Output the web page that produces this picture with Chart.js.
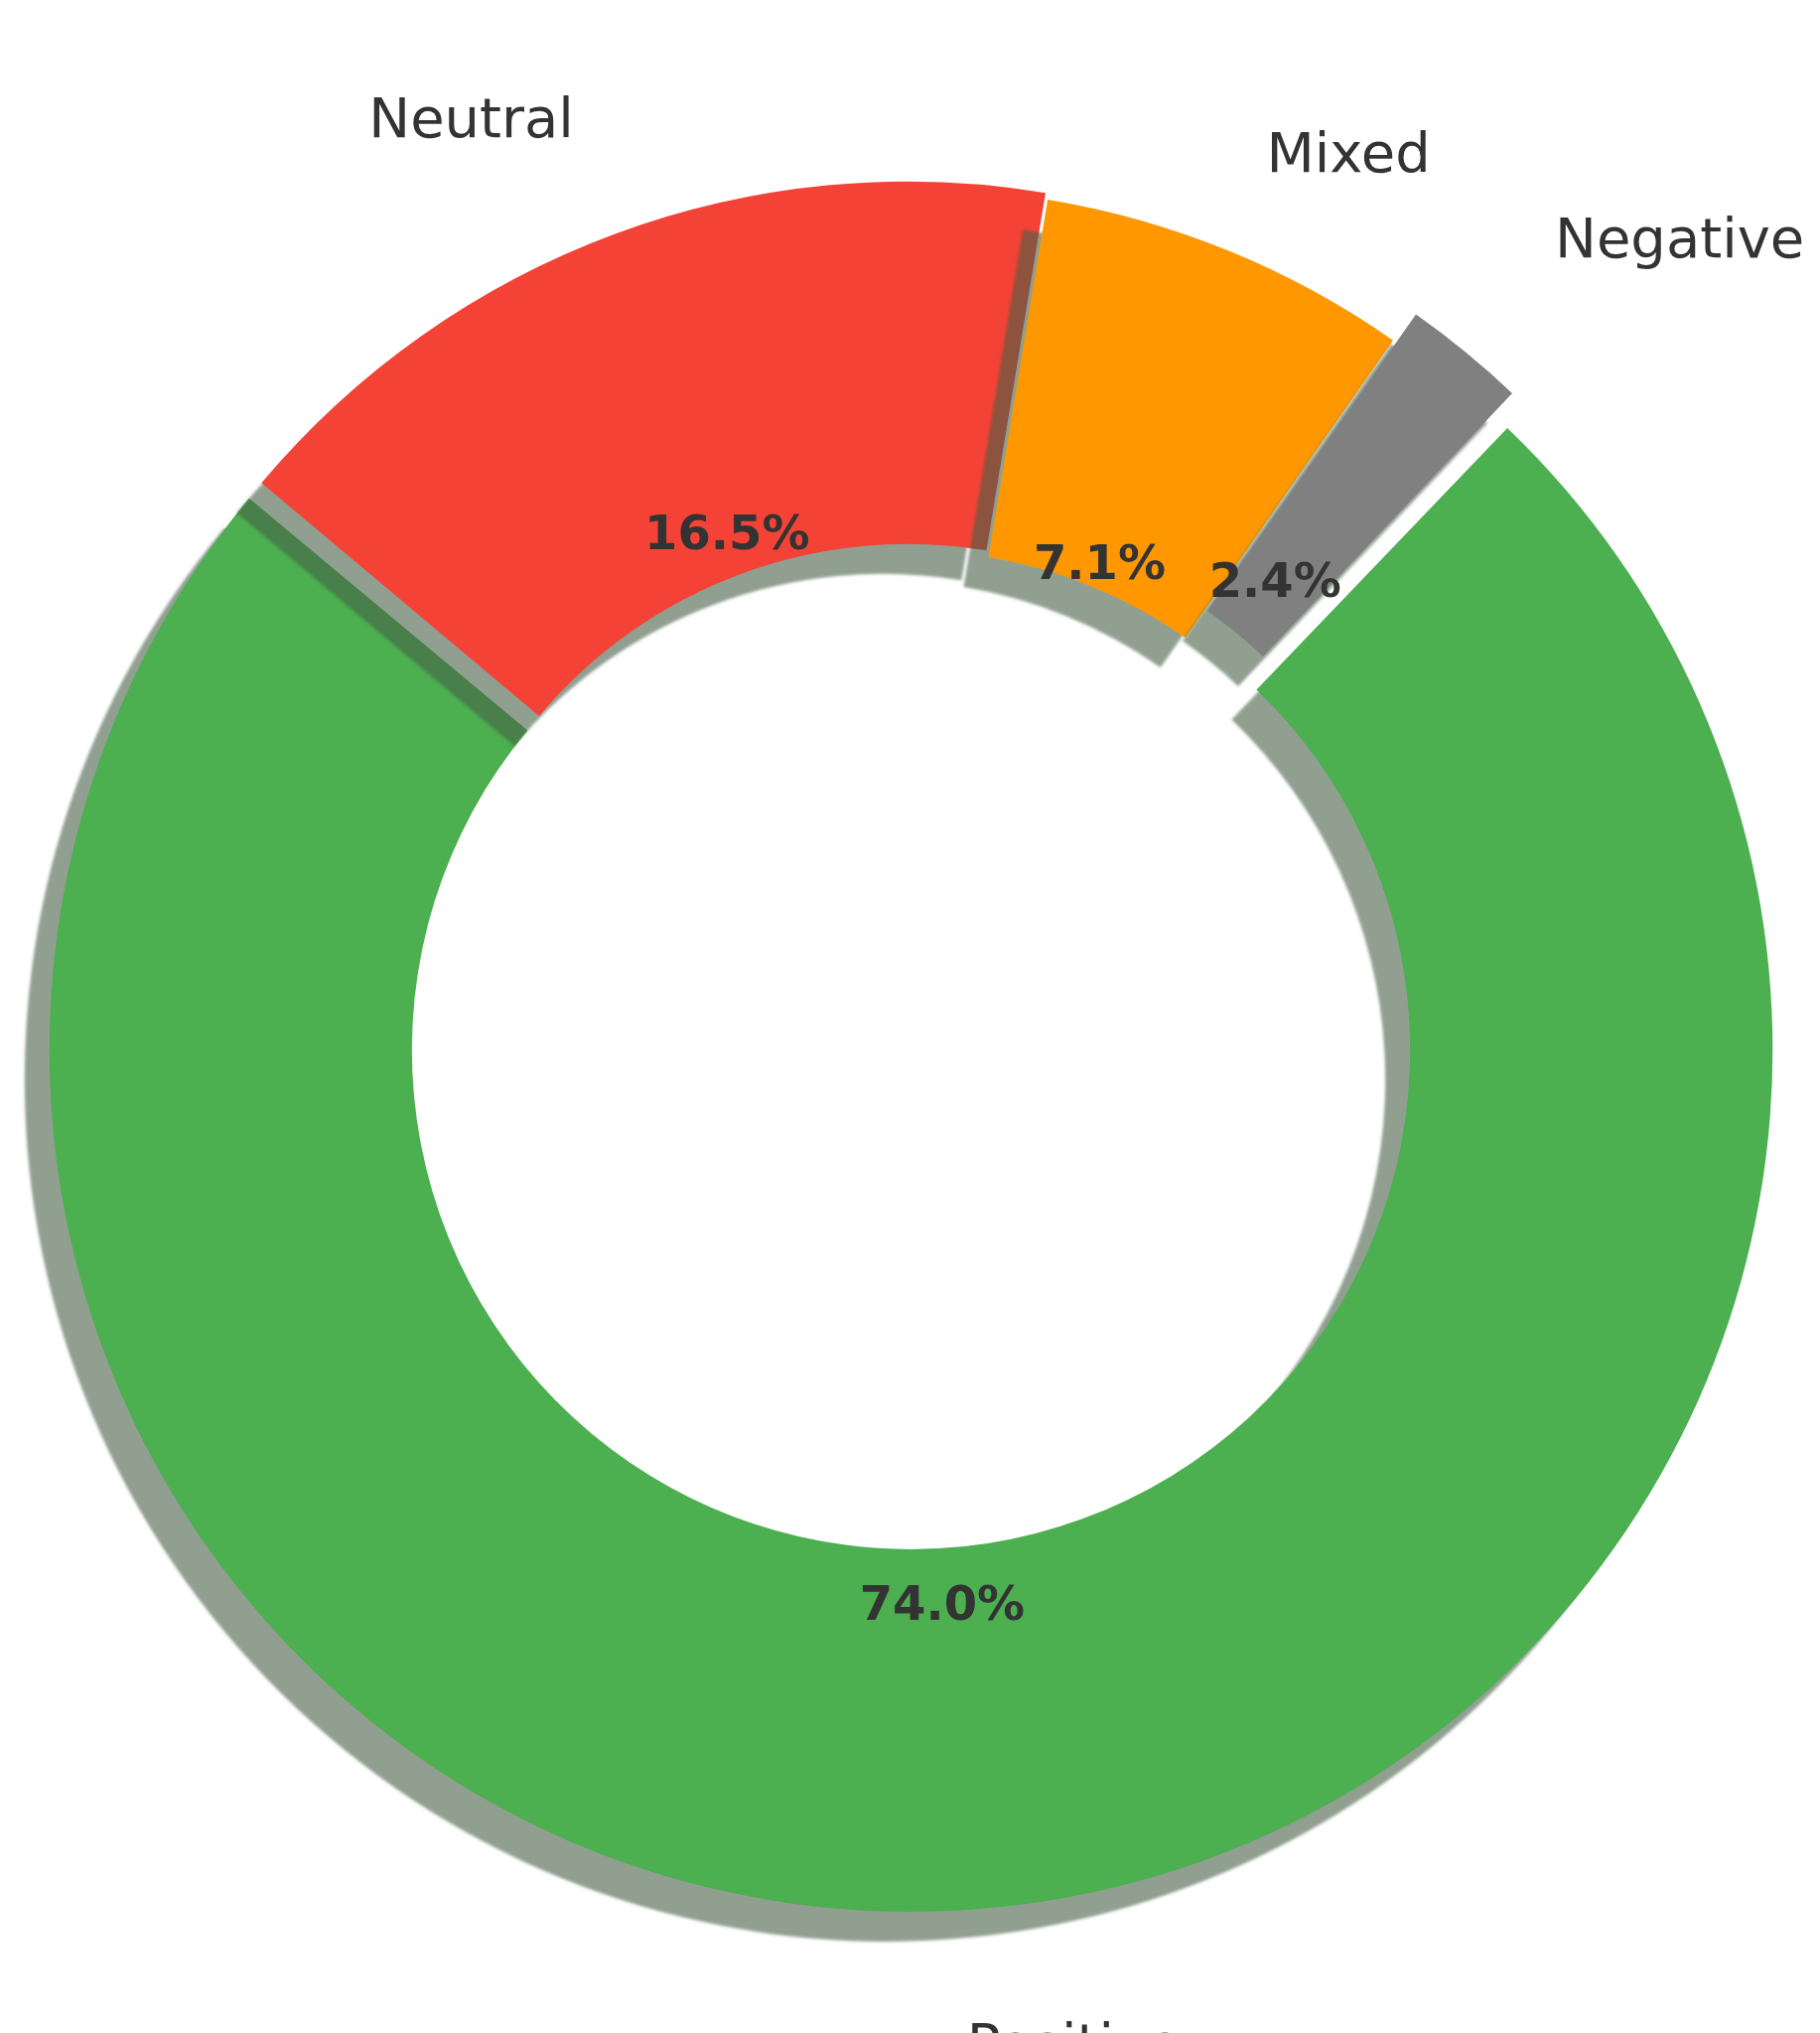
<!DOCTYPE html>
<html><head><meta charset="utf-8">
<script src="https://cdn.jsdelivr.net/npm/chart.js@4"></script>
<style>html,body{margin:0;background:#fff}#w{width:1833px;height:2047px}</style>
</head><body><div id="w"><canvas id="c"></canvas></div>
<script>
const categories = ['Positive','Neutral','Mixed','Negative'];
const values = [74.0, 16.5, 7.1, 2.4];
const colors = ['#4CAF50','#F44336','#FF9800','#808080'];
const offsets = [75, 25, 0, 75];

const shadowPlugin = {
  id:'shadow',
  beforeDatasetDraw(chart){
    const ctx=chart.ctx; ctx.save();
    ctx.shadowColor='rgba(70,95,70,0.6)'; ctx.shadowOffsetX=-25; ctx.shadowOffsetY=30; ctx.shadowBlur=3;
  },
  afterDatasetDraw(chart){ chart.ctx.restore(); }
};
const labelPlugin = {
  id:'lbls',
  afterDraw(chart){
    const ctx=chart.ctx, meta=chart.getDatasetMeta(0);
    const cx0=(chart.chartArea.left+chart.chartArea.right)/2, cy0=(chart.chartArea.top+chart.chartArea.bottom)/2;
    meta.data.forEach((el,i)=>{
      const p=el.getProps(['x','y','startAngle','endAngle','innerRadius','outerRadius'],true);
      const a=(p.startAngle+p.endAngle)/2;
      const off=offsets[i];
      const cx=cx0+Math.cos(a)*off, cy=cy0+Math.sin(a)*off;
      const ri=p.innerRadius, ro=p.outerRadius;
      const rp=ri+0.06*(ro-ri);
      ctx.save();
      ctx.fillStyle='#333'; ctx.textBaseline='middle';
      ctx.font='bold 48px "DejaVu Sans"'; ctx.textAlign='center';
      ctx.fillText(values[i].toFixed(1)+'%', cx+Math.cos(a)*rp, cy+Math.sin(a)*rp);
      ctx.font='56px "DejaVu Sans"';
      const lx=cx+Math.cos(a)*ro*1.12, ly=cy+Math.sin(a)*ro*1.12;
      ctx.textAlign = Math.cos(a)>=0?'left':'right';
      ctx.fillText(categories[i], lx, ly);
      ctx.restore();
    });
  }
};
new Chart(document.getElementById('c'),{
  type:'doughnut',
  data:{labels:categories,datasets:[{data:values,backgroundColor:colors,offset:offsets,borderWidth:0,hoverOffset:0}]},
  options:{responsive:true,maintainAspectRatio:false,animation:false,rotation:43.6,cutout:'57%',
    layout:{padding:{left:30,right:30,top:60,bottom:30}},
    plugins:{legend:{display:false},tooltip:{enabled:false}}},
  plugins:[shadowPlugin,labelPlugin]
});
</script></body></html>
